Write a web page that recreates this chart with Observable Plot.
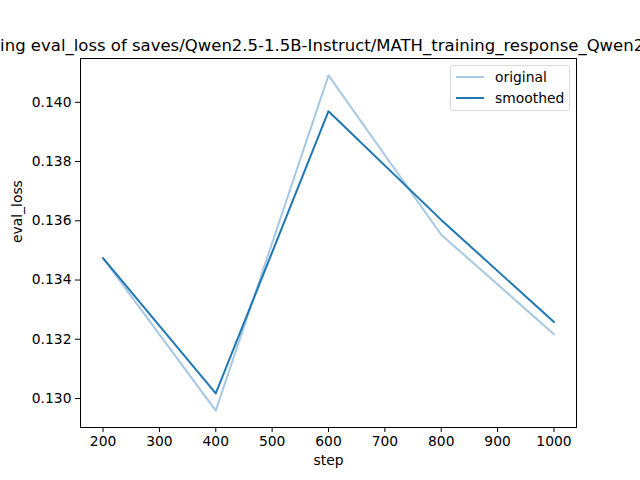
<!DOCTYPE html>
<html>
<head>
<meta charset="utf-8">
<script src="https://cdn.jsdelivr.net/npm/d3@7"></script>
<script src="https://cdn.jsdelivr.net/npm/@observablehq/plot@0.6"></script>
<style>
  html, body { margin: 0; padding: 0; background: #fff; }
  #wrap { position: relative; width: 640px; height: 480px; overflow: hidden; font-family: "DejaVu Sans", sans-serif; }
  #legend { position: absolute; left: 450px; top: 65px; width: 118px; height: 44px; border: 1px solid #d9d9d9; border-radius: 3px; background: rgba(255,255,255,0.8); font-size: 13.89px; }
  #legend .row { position: absolute; left: 0; height: 20px; display: flex; align-items: center; }
  #legend .sw { width: 28px; height: 2px; margin-left: 5px; margin-right: 11px; }
</style>
</head>
<body>
<div id="wrap"></div>
<script>
const steps = [200, 400, 600, 800, 1000];
const original = [0.13474, 0.12959, 0.14091, 0.13553, 0.13217];
const smoothed = [0.13474, 0.13017, 0.13970, 0.13603, 0.13258];
const xTicks = [200, 300, 400, 500, 600, 700, 800, 900, 1000];
const yTicks = [0.130, 0.132, 0.134, 0.136, 0.138, 0.140];
const seriesNames = ["original", "smoothed"];
const seriesColors = ["#a6c8e3", "#1f77b4"];
const titleText = "Training eval_loss of saves/Qwen2.5-1.5B-Instruct/MATH_training_response_Qwen2.5-1.5B-Instruct";

const origData = steps.map((s, i) => ({step: s, v: original[i]}));
const smData = steps.map((s, i) => ({step: s, v: smoothed[i]}));

const chart = Plot.plot({
  width: 640,
  height: 480,
  marginLeft: 80,
  marginRight: 64,
  marginTop: 58,
  marginBottom: 53,
  style: {fontFamily: "DejaVu Sans, sans-serif", fontSize: "13.89px", color: "#000", background: "#fff", overflow: "visible"},
  x: {domain: [160, 1040]},
  y: {domain: [0.12902, 0.14148]},
  marks: [
    Plot.line(origData, {x: "step", y: "v", stroke: seriesColors[0], strokeWidth: 2}),
    Plot.line(smData, {x: "step", y: "v", stroke: seriesColors[1], strokeWidth: 2}),
    Plot.frame({stroke: "#000", strokeWidth: 1}),
    Plot.axisX({ticks: xTicks, tickSize: 5, tickPadding: 4, label: null, fontSize: 13.89, tickFormat: d => String(d)}),
    Plot.axisY({ticks: yTicks, tickSize: 5, tickPadding: 4, label: null, fontSize: 13.89, tickFormat: d3.format(".3f")}),
    Plot.text(["step"], {frameAnchor: "bottom", dy: 33, text: d => d, fontSize: 13.89, lineAnchor: "middle"}),
    Plot.text(["eval_loss"], {frameAnchor: "left", dx: -63, rotate: -90, text: d => d, fontSize: 13.89, lineAnchor: "middle"}),
    Plot.text([titleText], {frameAnchor: "top-left", dx: -120, dy: -8, textAnchor: "start", text: d => d, fontSize: 16.5, lineAnchor: "bottom"})
  ]
});

const wrap = document.getElementById("wrap");
wrap.appendChild(chart);

const legend = document.createElement("div");
legend.id = "legend";
seriesNames.forEach((name, i) => {
  const row = document.createElement("div");
  row.className = "row";
  row.style.top = (i === 0 ? 1 : 22) + "px";
  const sw = document.createElement("div");
  sw.className = "sw";
  sw.style.background = seriesColors[i];
  const lab = document.createElement("span");
  lab.textContent = name;
  row.appendChild(sw);
  row.appendChild(lab);
  legend.appendChild(row);
});
wrap.appendChild(legend);
</script>
</body>
</html>
